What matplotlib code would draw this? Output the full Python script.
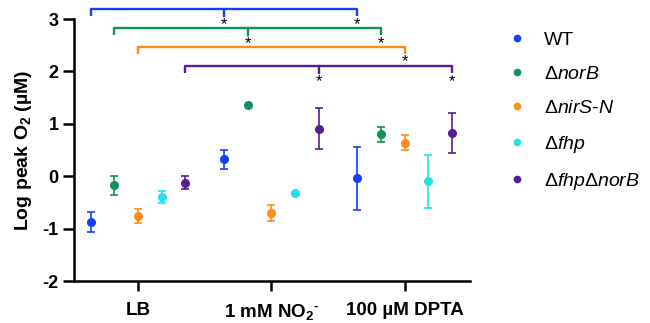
import matplotlib.pyplot as plt
import numpy as np

groups = ["LB", "1 mM NO$_\\mathbf{2}$$^{\\text{-}}$", "100 µM DPTA"]
strains = ["WT", "Δ$\\it{norB}$", "Δ$\\it{nirS}$-$\\it{N}$", "Δ$\\it{fhp}$",
           "Δ$\\it{fhp}$Δ$\\it{norB}$"]
colors = ["#1440f5", "#0f9455", "#ff8c1a", "#22e0ea", "#561d96"]

# log peak O2 per strain, one value per group (LB, NO2, DPTA)
wt = [-0.88, 0.32, -0.04]
norb = [-0.17, 1.36, 0.80]
nirs = [-0.76, -0.70, 0.64]
fhp = [-0.40, -0.32, -0.10]
fhpnorb = [-0.12, 0.91, 0.82]

wt_err = [0.19, 0.18, 0.60]
norb_err = [0.18, 0.0, 0.14]
nirs_err = [0.14, 0.16, 0.14]
fhp_err = [0.11, 0.02, 0.50]
fhpnorb_err = [0.12, 0.39, 0.38]

# significance brackets: strain index, bracket height, groups with asterisk
brackets = [(0, 3.19, [1, 2]), (1, 2.82, [1, 2]), (2, 2.47, [2]), (4, 2.10, [1, 2])]

plt.rcParams['font.family'] = ['Liberation Sans', 'DejaVu Sans']
plt.rcParams['mathtext.fontset'] = 'custom'
plt.rcParams['mathtext.rm'] = 'Liberation Sans:bold'
plt.rcParams['mathtext.it'] = 'Liberation Sans:italic'
plt.rcParams['mathtext.bf'] = 'Liberation Sans:bold'
plt.rcParams['axes.unicode_minus'] = False

fig = plt.figure(figsize=(6.5, 3.23), dpi=100)
ax = fig.add_axes([0.114, 0.130, 0.609, 0.811])

vals = [wt, norb, nirs, fhp, fhpnorb]
errs = [wt_err, norb_err, nirs_err, fhp_err, fhpnorb_err]
offs = [-0.355, -0.178, 0.0, 0.178, 0.355]
x = np.arange(len(groups))

handles = []
for i in range(5):
    ax.errorbar(x + offs[i], vals[i], yerr=errs[i], fmt='o', color=colors[i], ms=5.5,
                capsize=3, elinewidth=1.2, capthick=1.2)
    h, = ax.plot([], [], 'o', color=colors[i], ms=4.5, label=strains[i])
    handles.append(h)

for si, h, stars in brackets:
    xs = x + offs[si]
    c = colors[si]
    ax.plot([xs[0], xs[0], xs[2], xs[2]], [h - 0.13, h, h, h - 0.13], color=c, lw=1.7,
            clip_on=False, solid_capstyle='butt')
    for g in stars:
        if g == 1:
            ax.plot([xs[1], xs[1]], [h, h - 0.13], color=c, lw=1.7, clip_on=False)
        ax.text(xs[g], h - 0.29, "*", ha='center', va='center', fontsize=12, color='black')

ax.set_xlim(-0.48, 2.49)
ax.set_ylim(-2, 3)
ax.set_yticks([-2, -1, 0, 1, 2, 3])
ax.set_xticks(x)
ax.set_xticklabels(groups, fontsize=13.5, fontweight='bold')
for t in ax.get_yticklabels():
    t.set_fontweight('bold')
    t.set_fontsize(13)
ax.tick_params(axis='x', length=7, width=1.8, pad=8)
ax.tick_params(axis='y', length=8, width=1.8, pad=3)
ax.spines['top'].set_visible(False)
ax.spines['right'].set_visible(False)
ax.spines['left'].set_linewidth(1.8)
ax.spines['bottom'].set_linewidth(1.8)
ax.set_ylabel("Log peak O$_\\mathbf{2}$ (µM)", fontsize=14, fontweight='bold', labelpad=6)

ax.legend(handles=handles, loc='upper left', bbox_to_anchor=(1.037, 1.02), frameon=False,
          fontsize=14, handletextpad=0.65, handlelength=1.5, labelspacing=0.85)

fig.savefig("out.png", dpi=100)
